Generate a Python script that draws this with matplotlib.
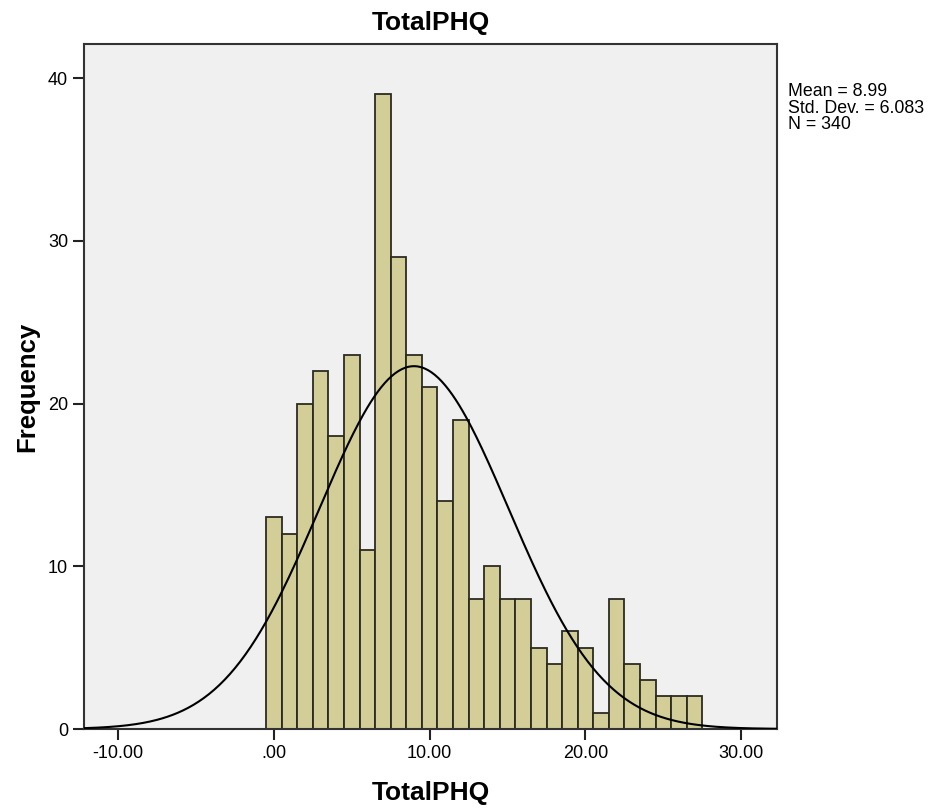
import numpy as np
import matplotlib
matplotlib.use("Agg")
import matplotlib.pyplot as plt
from matplotlib.ticker import FuncFormatter

plt.rcParams["font.family"] = ["Liberation Sans", "DejaVu Sans"]

# ---- data (bins centred on 0..27)
scores = list(range(0, 28))
counts = [13, 12, 20, 22, 18, 23, 11, 39, 29, 23, 21, 14, 19, 8,
          10, 8, 8, 5, 4, 6, 5, 1, 8, 4, 3, 2, 2, 2]
mean = 8.99
std = 6.083
n = 340
bin_width = 1.0

fig = plt.figure(figsize=(9.34, 8.10), dpi=100)
ax = fig.add_axes([0.0899, 0.1, 0.742, 0.8457])
ax.set_facecolor("#f0f0f0")

ax.bar(scores, counts, width=bin_width, color="#d3ce97",
       edgecolor="#2b2b22", linewidth=1.3, zorder=2)

# fitted normal curve
xs = np.linspace(-12.2, 32.3, 400)
ys = n * bin_width / (std * np.sqrt(2 * np.pi)) * np.exp(-0.5 * ((xs - mean) / std) ** 2)
ax.plot(xs, ys, color="black", linewidth=1.5, zorder=3)

ax.set_xlim(-12.2, 32.3)
ax.set_ylim(0, 42.1)
ax.set_xticks([-10, 0, 10, 20, 30])
ax.set_yticks([0, 10, 20, 30, 40])


def fmt_x(v, pos):
    s = f"{v:.2f}"
    if s.startswith("0"):
        s = s[1:]
    return s


ax.xaxis.set_major_formatter(FuncFormatter(fmt_x))
ax.tick_params(axis="both", direction="out", length=8, width=1.5,
               labelsize=13, color="#222222")
for sp in ax.spines.values():
    sp.set_linewidth(1.5)
    sp.set_color("#333333")

ax.set_title("TotalPHQ", fontsize=19, fontweight="bold", pad=10)
ax.set_xlabel("TotalPHQ", fontsize=19, fontweight="bold", labelpad=14)
ax.set_ylabel("Frequency", fontsize=18.5, fontweight="bold", labelpad=6)

fig.text(0.844, 0.897, f"Mean = {mean:.2f}\nStd. Dev. = {std:.3f}\nN = {n}",
         fontsize=12.8, va="top", ha="left", linespacing=0.93)

fig.savefig("out.png", dpi=100)
plt.close(fig)
